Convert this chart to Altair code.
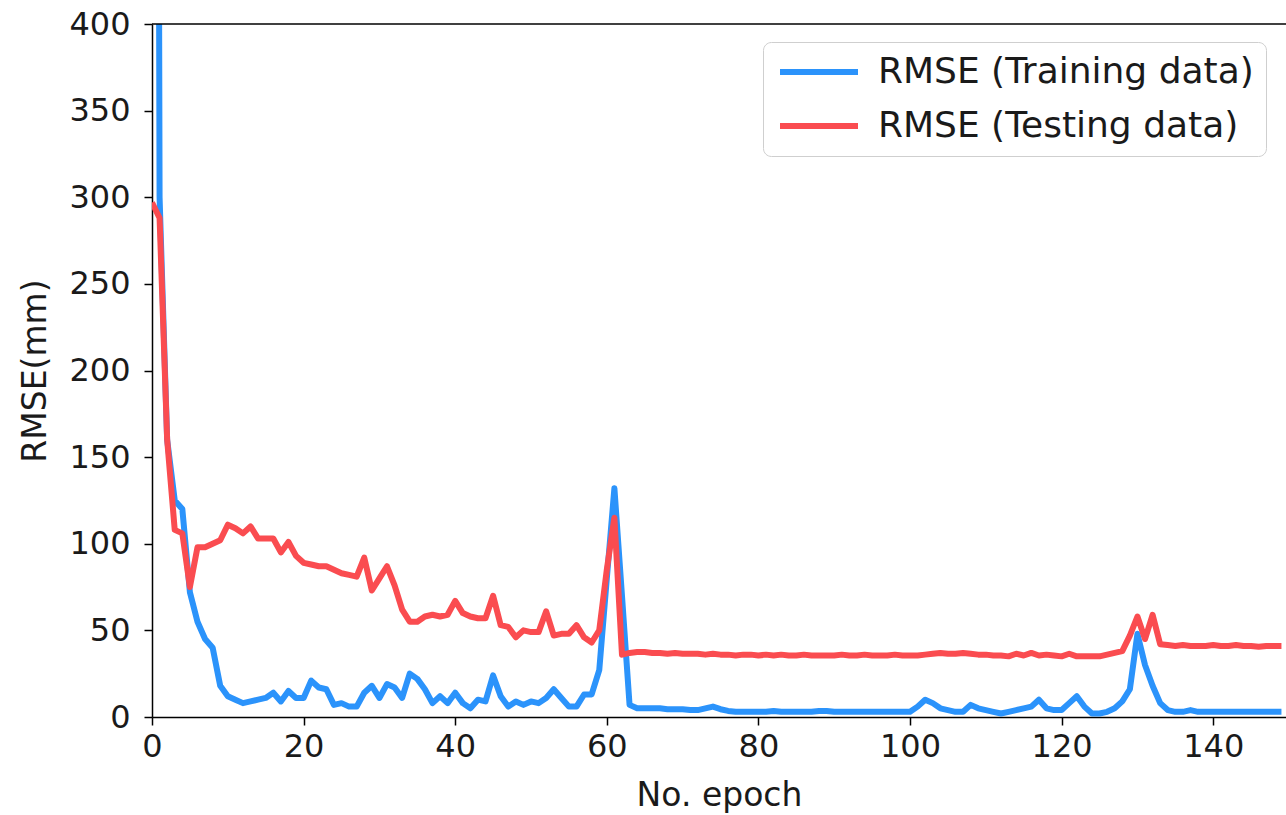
import altair as alt
import pandas as pd

# ---- data ----
epochs = list(range(150))

train_rmse = [
    2000, 300, 160, 125, 120, 72, 55, 45, 40, 18,
    12, 10, 8, 9, 10, 11, 14, 9, 15, 11,
    11, 21, 17, 16, 7, 8, 6, 6, 14, 18,
    11, 19, 17, 11, 25, 22, 16, 8, 12, 8,
    14, 8, 5, 10, 9, 24, 12, 6, 9, 7,
    9, 8, 11, 16, 11, 6, 6, 13, 13, 27,
    80, 132, 70, 7, 5, 5, 5, 5, 4.5, 4.5,
    4.5, 4, 4, 5, 6, 4.5, 3.5, 3, 3, 3,
    3, 3, 3.5, 3, 3, 3, 3, 3, 3.5, 3.5,
    3, 3, 3, 3, 3, 3, 3, 3, 3, 3,
    3, 6, 10, 8, 5, 4, 3, 3, 7, 5,
    4, 3, 2, 3, 4, 5, 6, 10, 5, 4,
    4, 8, 12, 6, 2, 2, 3, 5, 9, 16,
    48, 30, 18, 8, 4, 3, 3, 4, 3, 3,
    3, 3, 3, 3, 3, 3, 3, 3, 3, 3,
]

test_rmse = [
    297, 288, 160, 108, 106, 75, 98, 98, 100, 102,
    111, 109, 106, 110, 103, 103, 103, 95, 101, 93,
    89, 88, 87, 87, 85, 83, 82, 81, 92, 73,
    80, 87, 76, 62, 55, 55, 58, 59, 58, 59,
    67, 60, 58, 57, 57, 70, 53, 52, 46, 50,
    49, 49, 61, 47, 48, 48, 53, 46, 43, 50,
    85, 115, 36, 37, 37.5, 37.5, 37, 37, 36.5, 37,
    36.5, 36.5, 36.5, 36, 36.5, 36, 36, 35.5, 36, 36,
    35.5, 36, 35.5, 36, 35.5, 35.5, 36, 35.5, 35.5, 35.5,
    35.5, 36, 35.5, 35.5, 36, 35.5, 35.5, 35.5, 36, 35.5,
    35.5, 35.5, 36, 36.5, 37, 36.5, 36.5, 37, 36.5, 36,
    36, 35.5, 35.5, 35, 36.5, 35.5, 37, 35.5, 36, 35.5,
    35, 36.5, 35, 35, 35, 35, 36, 37, 38, 47,
    58, 45, 59, 42, 41.5, 41, 41.5, 41, 41, 41,
    41.5, 41, 41, 41.5, 41, 41, 40.5, 41, 41, 41,
]

series_names = ["RMSE (Training data)", "RMSE (Testing data)"]
series_colors = ["#2B93FB", "#FA4C50"]
x_ticks = [0, 20, 40, 60, 80, 100, 120, 140]
y_ticks = [0, 50, 100, 150, 200, 250, 300, 350, 400]

df = pd.DataFrame({
    "epoch": epochs + epochs,
    "rmse": train_rmse + test_rmse,
    "series": [series_names[0]] * len(epochs) + [series_names[1]] * len(epochs),
})

W, H = 1134, 693
FONT = "DejaVu Sans"
TXT = "#1a1a1a"
LW = 6

x_enc = alt.X(
    "epoch:Q",
    scale=alt.Scale(domain=[0, 149.6], nice=False, zero=False),
    axis=alt.Axis(values=x_ticks, title="No. epoch", labelPadding=6,
                  titlePadding=17, format="d", labelFlush=False),
)
y_enc = alt.Y(
    "rmse:Q",
    scale=alt.Scale(domain=[0, 400], nice=False),
    axis=alt.Axis(values=y_ticks, title="RMSE(mm)", labelPadding=14,
                  titlePadding=16, format="d", labelFlush=False),
)
color_enc = alt.Color(
    "series:N",
    scale=alt.Scale(domain=series_names, range=series_colors),
    legend=alt.Legend(
        title=None, orient="none", legendX=611, legendY=18,
        symbolType="M-1,0H5", symbolSize=676, symbolStrokeWidth=LW,
        labelFontSize=36, labelFont=FONT, labelColor=TXT, labelOffset=67,
        rowPadding=18, padding=12, strokeColor="#cfcfcf", cornerRadius=8,
        fillColor="white", labelLimit=0,
    ),
)

base = alt.Chart(df)
train_line = base.transform_filter(
    alt.datum.series == series_names[0]
).mark_line(clip=True, strokeWidth=LW, strokeJoin="round").encode(
    x=x_enc, y=y_enc, color=color_enc)
test_line = base.transform_filter(
    alt.datum.series == series_names[1]
).mark_line(clip=True, strokeWidth=LW, strokeJoin="round").encode(
    x=x_enc, y=y_enc, color=color_enc)

top_spine = alt.Chart(pd.DataFrame({"k": [0]})).mark_rule(
    color="black", strokeWidth=1.5
).encode(x=alt.value(0), x2=alt.value(W), y=alt.value(0))

chart = alt.layer(train_line, test_line, top_spine).properties(
    width=W, height=H, background="white",
    padding={"left": 152, "top": 24, "right": 0, "bottom": 98},
    autosize=alt.AutoSizeParams(type="none"),
).configure_view(stroke=None).configure_axis(
    grid=False, domainColor="black", domainWidth=1.5, tickColor="black",
    tickWidth=1.5, tickSize=8, labelFont=FONT, labelFontSize=32,
    labelColor=TXT, titleFont=FONT, titleFontSize=33,
    titleFontWeight="normal", titleColor=TXT,
)

chart.save("out.html", embed_options={"renderer": "svg", "actions": False})
